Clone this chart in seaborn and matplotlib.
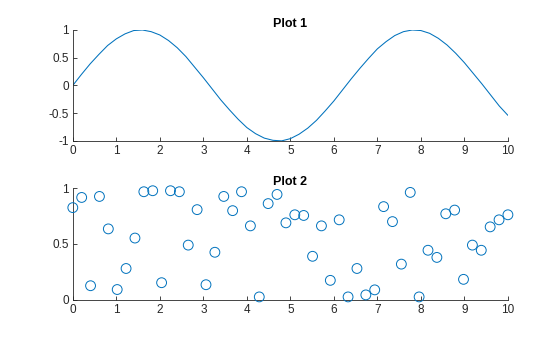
import matplotlib
matplotlib.use("Agg")
import matplotlib.pyplot as plt
import seaborn as sns
import pandas as pd

# Plot 1 data (sine-shaped curve)
x1 = [i * 0.2 for i in range(51)]
y1 = [0.00, 0.20, 0.39, 0.56, 0.72, 0.84, 0.93, 0.99, 1.00, 0.97,
      0.91, 0.81, 0.68, 0.52, 0.33, 0.14, -0.06, -0.26, -0.44, -0.61,
      -0.76, -0.87, -0.95, -0.99, -1.00, -0.96, -0.88, -0.77, -0.63, -0.46,
      -0.28, -0.08, 0.12, 0.31, 0.49, 0.66, 0.79, 0.90, 0.97, 1.00,
      0.99, 0.94, 0.85, 0.73, 0.58, 0.41, 0.22, 0.03, -0.17, -0.37,
      -0.54]

# Plot 2 data (scatter)
x2 = [i * 10 / 49 for i in range(50)]
y2 = [0.825, 0.916, 0.127, 0.925, 0.635, 0.093, 0.281, 0.553, 0.967, 0.976,
      0.154, 0.976, 0.967, 0.490, 0.807, 0.136, 0.426, 0.925, 0.798, 0.967,
      0.662, 0.027, 0.861, 0.943, 0.689, 0.761, 0.755, 0.390, 0.662, 0.175,
      0.716, 0.027, 0.281, 0.045, 0.090, 0.834, 0.700, 0.320, 0.961, 0.027,
      0.444, 0.380, 0.770, 0.803, 0.184, 0.490, 0.444, 0.653, 0.716, 0.761]

xticks = list(range(11))
yticks1 = [-1, -0.5, 0, 0.5, 1]
yticks1_labels = ["-1", "-0.5", "0", "0.5", "1"]
yticks2 = [0, 0.5, 1]
yticks2_labels = ["0", "0.5", "1"]

sns.set_theme(style="white")
plt.rcParams["font.family"] = ["Liberation Sans", "DejaVu Sans"]

color = "#0072BD"
fig = plt.figure(figsize=(5.6, 3.37), dpi=100)
ax1 = fig.add_axes([0.130, 0.582, 0.777, 0.329])
ax2 = fig.add_axes([0.130, 0.110, 0.777, 0.332])

df1 = pd.DataFrame({"x": x1, "y": y1})
sns.lineplot(data=df1, x="x", y="y", ax=ax1, color=color, linewidth=0.75)

df2 = pd.DataFrame({"x": x2, "y": y2})
sns.scatterplot(data=df2, x="x", y="y", ax=ax2, marker="o", s=50,
                facecolors="none", edgecolor=color, linewidth=0.7,
                clip_on=False, zorder=3)

for ax, yt, ytl, ylim, title in [
    (ax1, yticks1, yticks1_labels, (-1, 1), "Plot 1"),
    (ax2, yticks2, yticks2_labels, (0, 1), "Plot 2"),
]:
    ax.set_xlim(0, 10)
    ax.set_ylim(*ylim)
    ax.set_xticks(xticks)
    ax.set_xticklabels([str(t) for t in xticks])
    ax.set_yticks(yt)
    ax.set_yticklabels(ytl)
    ax.set_xlabel("")
    ax.set_ylabel("")
    ax.set_title(title, fontsize=9, fontweight="bold", pad=2, color="#000000")
    for s in ["top", "right"]:
        ax.spines[s].set_visible(False)
    for s in ["left", "bottom"]:
        ax.spines[s].set_color("#262626")
        ax.spines[s].set_linewidth(0.6)
    ax.tick_params(direction="in", length=3, width=0.6, color="#262626",
                   labelsize=8.5, labelcolor="#262626", pad=3,
                   left=True, bottom=True)
    ax.set_facecolor("white")

fig.savefig("out.png", dpi=100, facecolor="white")
